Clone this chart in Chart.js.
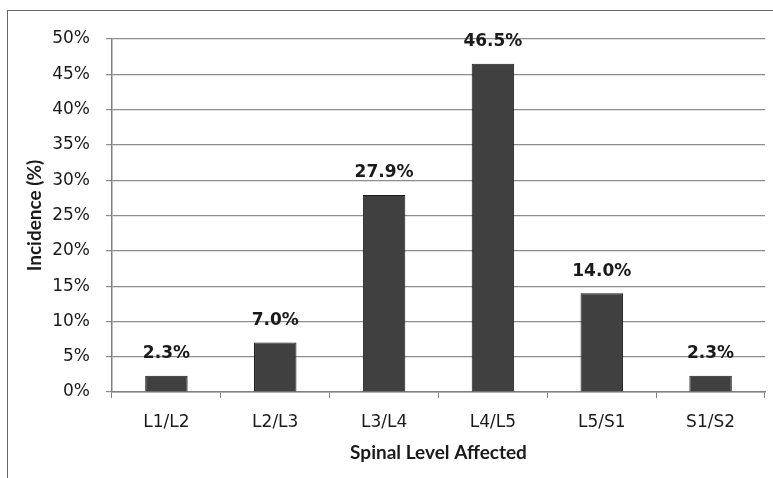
<!DOCTYPE html>
<html>
<head>
<meta charset="utf-8">
<script src="https://cdn.jsdelivr.net/npm/chart.js@4.4.1/dist/chart.umd.min.js"></script>
<style>
  html, body { margin: 0; padding: 0; background: #ffffff; overflow: hidden; }
  #wrap { position: relative; width: 773px; height: 478px; }
  #frame { position: absolute; left: 7px; top: 10px; width: 900px; height: 600px;
           border-top: 1.5px solid #666; border-left: 1.5px solid #666; }
  canvas { position: absolute; left: 0; top: 0; }
</style>
</head>
<body>
<div id="wrap">
  <div id="frame"></div>
  <canvas id="c" width="773" height="478"></canvas>
</div>
<script>
const categories = ["L1/L2", "L2/L3", "L3/L4", "L4/L5", "L5/S1", "S1/S2"];
const incidence = [2.3, 7.0, 27.9, 46.5, 14.0, 2.3];
const yTicks = [0, 5, 10, 15, 20, 25, 30, 35, 40, 45, 50];
const xTitle = "Spinal Level Affected";
const yTitle = "Incidence (%)";

const tickFont = { family: "'DejaVu Sans', Verdana, sans-serif", size: 17 };
const titleFont = { family: "Lato, 'Open Sans', sans-serif", size: 19, weight: "bold" };

const valueLabels = {
  id: "valueLabels",
  afterDatasetsDraw(chart) {
    const ctx = chart.ctx;
    const meta = chart.getDatasetMeta(0);
    ctx.save();
    ctx.font = "bold 17px 'DejaVu Sans', Verdana, sans-serif";
    ctx.fillStyle = "#1a1a1a";
    ctx.textAlign = "center";
    ctx.textBaseline = "middle";
    meta.data.forEach((bar, i) => {
      ctx.fillText(incidence[i].toFixed(1) + "%", bar.x, bar.y - 22);
    });
    ctx.restore();
  }
};

new Chart(document.getElementById("c"), {
  type: "bar",
  data: {
    labels: categories,
    datasets: [{
      data: incidence,
      backgroundColor: "#404040",
      borderColor: "#1a1a1a",
      borderWidth: 1,
      barPercentage: 0.39,
      categoryPercentage: 1.0
    }]
  },
  options: {
    responsive: false,
    animation: false,
    devicePixelRatio: 1,
    layout: { padding: { left: 0, top: 39, right: 8, bottom: 0 } },
    plugins: { legend: { display: false }, tooltip: { enabled: false } },
    scales: {
      x: {
        offset: true,
        afterFit(s) { s.height = 86; },
        grid: { display: true, drawOnChartArea: false, drawTicks: true, tickLength: 6,
                color: "#808080", lineWidth: 1, offset: true },
        border: { display: true, color: "#808080", width: 1.5 },
        ticks: { color: "#1a1a1a", font: tickFont, padding: 14, maxRotation: 0 },
        title: { display: true, text: xTitle, color: "#1a1a1a", font: titleFont,
                 padding: { top: 0, bottom: 14 } }
      },
      y: {
        min: 0, max: 50,
        afterFit(s) { s.width = 112; },
        afterBuildTicks(s) { s.ticks = yTicks.map(v => ({ value: v })); },
        grid: { color: "#8c8c8c", lineWidth: 1.2, tickLength: 6 },
        border: { display: true, color: "#808080", width: 1.5 },
        ticks: { color: "#1a1a1a", font: tickFont, padding: 16,
                 callback: v => v + "%" },
        title: { display: true, text: yTitle, color: "#1a1a1a", font: titleFont,
                 padding: { top: 23, bottom: 0 } }
      }
    }
  },
  plugins: [valueLabels]
});
</script>
</body>
</html>
